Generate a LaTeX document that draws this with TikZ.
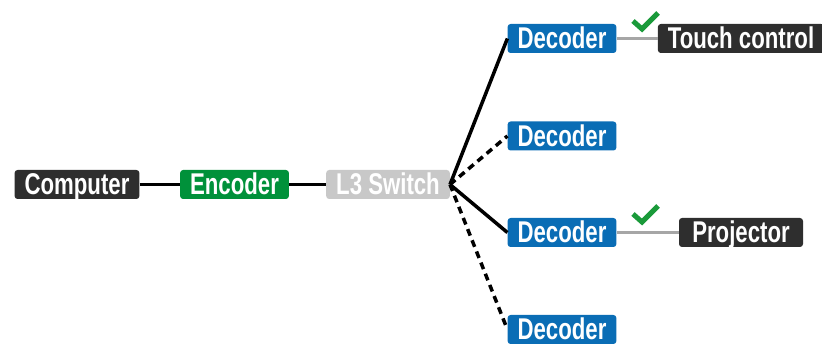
\documentclass[tikz,border=0pt]{standalone}
\usepackage{fontspec}
\setmainfont{Liberation Sans}[FakeStretch=0.74]
\definecolor{darkbox}{HTML}{2E2E2E}
\definecolor{greenbox}{HTML}{00913A}
\definecolor{bluebox}{HTML}{0A6DB5}
\definecolor{graybox}{HTML}{C8C8C8}
\definecolor{grayline}{HTML}{A6A6A6}
\definecolor{checkgreen}{HTML}{1A9A3A}
\tikzset{
  box/.style={rounded corners=3pt, inner xsep=10pt, inner ysep=0pt,
    text height=25pt, text depth=4pt, text=white,
    font=\fontsize{30pt}{32pt}\selectfont\bfseries},
  darkn/.style={box, fill=darkbox},
  greenn/.style={box, fill=greenbox},
  bluen/.style={box, fill=bluebox},
  grayn/.style={box, fill=graybox},
  link/.style={line width=3.5pt, black},
  dlink/.style={link, dash pattern=on 7pt off 5pt},
  glink/.style={line width=3.5pt, grayline},
  checkm/.style={line width=5pt, checkgreen}
}
\begin{document}
\begin{tikzpicture}[x=1pt,y=-1pt]
\useasboundingbox (0,0) rectangle (822,344);
\node[darkn] (comp) at (77,184.5) {Computer};
\node[greenn] (enc) at (234.5,184.5) {Encoder};
\node[grayn] (sw) at (388,184.5) {L3 Switch};
\node[bluen] (d1) at (562,38.5) {Decoder};
\node[bluen] (d2) at (562,136) {Decoder};
\node[bluen] (d3) at (562,232.5) {Decoder};
\node[bluen] (d4) at (562,329.5) {Decoder};
\node[darkn] (tc) at (741,38.5) {Touch control};
\node[darkn, minimum width=124pt] (pj) at (741,232.5) {Projector};
\coordinate (c1a) at (633,21);
\coordinate (c1b) at (642,29);
\coordinate (c1c) at (658,13);
\coordinate (c2a) at (633,214);
\coordinate (c2b) at (642,222);
\coordinate (c2c) at (658,206);
\draw[link] (comp) -- (enc);
\draw[link] (enc) -- (sw);
\draw[link] (sw.east) -- (d1.west);
\draw[dlink] (sw.east) -- (d2.west);
\draw[link] (sw.east) -- (d3.west);
\draw[dlink] (sw.east) -- (d4.west);
\draw[glink] (d1) -- (tc);
\draw[glink] (d3) -- (pj);
\draw[checkm] (c1a) -- (c1b) -- (c1c);
\draw[checkm] (c2a) -- (c2b) -- (c2c);
\end{tikzpicture}
\end{document}
